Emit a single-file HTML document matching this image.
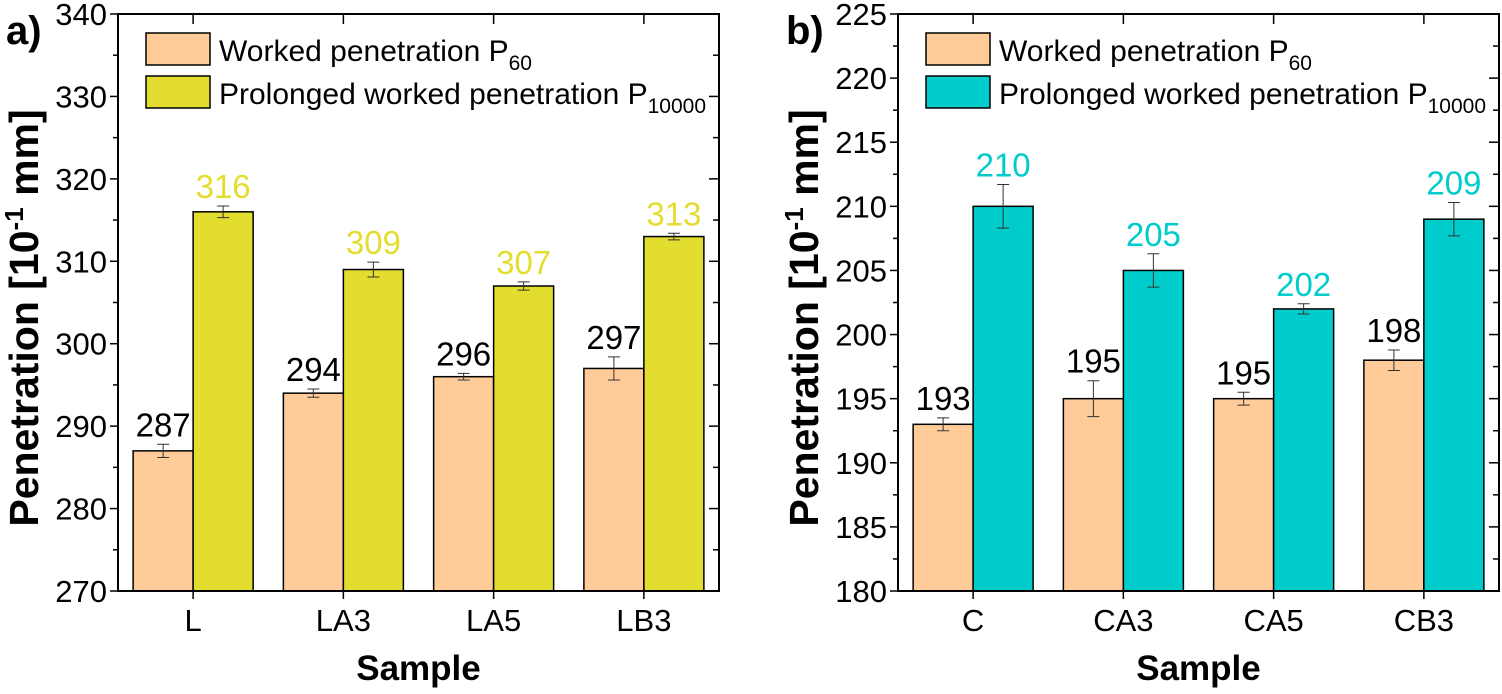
<!DOCTYPE html>
<html><head><meta charset="utf-8">
<style>
html,body{margin:0;padding:0;background:#fff;}
svg{display:block;font-family:"Liberation Sans",Arial,sans-serif;}
</style></head>
<body>
<svg id="chart" width="1502" height="694" viewBox="0 0 1502 694"></svg>
<script>
const catsA = ["L","LA3","LA5","LB3"];
const p60A = [287,294,296,297];
const p60ErrA = [0.8,0.5,0.4,1.4];
const p10kA = [316,309,307,313];
const p10kErrA = [0.7,0.9,0.5,0.4];
const ticksA = [270,280,290,300,310,320,330,340];

const catsB = ["C","CA3","CA5","CB3"];
const p60B = [193,195,195,198];
const p60ErrB = [0.5,1.4,0.5,0.8];
const p10kB = [210,205,202,209];
const p10kErrB = [1.7,1.3,0.4,1.3];
const ticksB = [180,185,190,195,200,205,210,215,220,225];

const NS="http://www.w3.org/2000/svg";
const svg=document.getElementById('chart');
function mk(tag,attrs,parent){const e=document.createElementNS(NS,tag);for(const k in attrs)e.setAttribute(k,attrs[k]);(parent||svg).appendChild(e);return e;}

function panel(opt){
  const g=mk('g',{});
  
  
  const L=opt.x0,R=opt.x0+601,T=14,B=591;
  const ymin=opt.ticks[0],ymax=opt.ticks[opt.ticks.length-1];
  const y=v=>B-(v-ymin)/(ymax-ymin)*(B-T);
  const slot=(R-L)/opt.cats.length;
  const cx=i=>L+slot*(i+0.5);
  const bw=60;
  opt.cats.forEach((c,i)=>{
    const x1=cx(i)-bw, x2=cx(i);
    const r1=mk('rect',{x:x1,y:y(opt.p60[i]),width:bw,height:B-y(opt.p60[i]),fill:'#ffcc99',stroke:'#000','stroke-width':1.5},g);
    
    
    const r2=mk('rect',{x:x2,y:y(opt.p10k[i]),width:bw,height:B-y(opt.p10k[i]),fill:opt.color,stroke:'#000','stroke-width':1.5},g);
    
    
    [[x1+bw/2,opt.p60[i],opt.p60Err[i],'#000','p60'],[x2+bw/2,opt.p10k[i],opt.p10kErr[i],opt.color,'p10000']].forEach(([x,v,e,col,s])=>{
      const eb=mk('path',{d:`M${x},${y(v+e)}V${y(v-e)}M${x-6},${y(v+e)}H${x+6}M${x-6},${y(v-e)}H${x+6}`,stroke:'#333','stroke-width':1,fill:'none'},g);
      
      
      const t=mk('text',{x:x,y:y(v+e)-8,'text-anchor':'middle','font-size':33,fill:col},g);
      t.textContent=v;
      
      
    });
    const cl=mk('text',{x:cx(i),y:631,'text-anchor':'middle','font-size':31},g);
    cl.textContent=c;
    
    
    mk('line',{x1:cx(i),x2:cx(i),y1:B,y2:B+8,stroke:'#000','stroke-width':1.5},g);
    mk('line',{x1:cx(i),x2:cx(i),y1:T,y2:T+10,stroke:'#000','stroke-width':1.5},g);
  });
  const fr=mk('rect',{x:L,y:T,width:R-L,height:B-T,fill:'none',stroke:'#000','stroke-width':2},g);
  
  
  const step=opt.ticks[1]-opt.ticks[0];
  opt.ticks.forEach((v,k)=>{
    mk('line',{x1:L-8,x2:L,y1:y(v),y2:y(v),stroke:'#000','stroke-width':1.5},g);
    mk('line',{x1:R-10,x2:R,y1:y(v),y2:y(v),stroke:'#000','stroke-width':1.5},g);
    if(k<opt.ticks.length-1){const m=v+step/2;
      mk('line',{x1:L-5,x2:L,y1:y(m),y2:y(m),stroke:'#000','stroke-width':1.5},g);
      mk('line',{x1:R-6,x2:R,y1:y(m),y2:y(m),stroke:'#000','stroke-width':1.5},g);}
    const t=mk('text',{x:L-11,y:y(v)+11,'text-anchor':'end','font-size':31},g);
    t.textContent=v;
    
    
  });
  const yt=mk('text',{x:0,y:0,transform:`translate(${L-80},318) rotate(-90)`,'text-anchor':'middle','font-size':41,'font-weight':'bold'},g);
  yt.innerHTML='Penetration [10<tspan dy="-15" font-size="26">-1</tspan><tspan dy="15"> mm]</tspan>';
  
  
  const xt=mk('text',{x:(L+R)/2,y:680,'text-anchor':'middle','font-size':35,'font-weight':'bold'},g);
  xt.textContent='Sample';
  
  
  const pl=mk('text',{x:opt.labX,y:44,'font-size':40,'font-weight':'bold'},g);
  pl.textContent=opt.label;
  
  
  const lg=mk('g',{},g);
  
  
  [['#ffcc99','Worked penetration P','60',33],[opt.color,'Prolonged worked penetration P','10000',76]].forEach(([col,txt,sub,yy])=>{
    mk('rect',{x:L+28,y:yy,width:64,height:32,fill:col,stroke:'#000','stroke-width':1.5},lg);
    const t=mk('text',{x:L+101,y:yy+28,'font-size':30},lg);
    t.innerHTML=txt+'<tspan dy="9" font-size="21">'+sub+'</tspan>';
    
    
  });
}
panel({name:'panel-a',x0:118,cats:catsA,p60:p60A,p60Err:p60ErrA,p10k:p10kA,p10kErr:p10kErrA,ticks:ticksA,color:'#e3dd2f',label:'a)',labX:6});
panel({name:'panel-b',x0:898,cats:catsB,p60:p60B,p60Err:p60ErrB,p10k:p10kB,p10kErr:p10kErrB,ticks:ticksB,color:'#00cccc',label:'b)',labX:786});
</script>
</body></html>
